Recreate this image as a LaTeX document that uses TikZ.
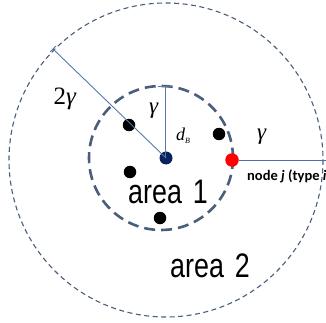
\documentclass[tikz,border=0pt]{standalone}
\usepackage{fontspec}
\usepackage{graphicx}
\usepackage{tikz}
\usetikzlibrary{positioning, calc}
\newfontfamily\areafont{Liberation Sans}
\newfontfamily\notefont{Carlito}
\newfontfamily\symfont{Liberation Serif}
\definecolor{ringblue}{RGB}{72,94,122}
\definecolor{rayblue}{RGB}{88,120,165}
\definecolor{hubblue}{RGB}{10,35,95}
\tikzstyle{dot} = [circle, inner sep=0pt, minimum size=12.5pt, fill=black]
\tikzstyle{ray} = [draw=rayblue, line width=0.9pt]
\tikzstyle{sym} = [inner sep=0pt, font=\symfont\fontsize{23}{23}\selectfont]
\tikzstyle{arealabel} = [inner sep=0pt, anchor=base west, font=\areafont\fontsize{34}{34}\selectfont]

\begin{document}
\begin{tikzpicture}[x=1pt, y=-1pt]
    \useasboundingbox (0,0) rectangle (326,323);
    % Rings
    \draw [ringblue, line width=1.1pt, dash pattern=on 5pt off 3.5pt] (166,160) circle (157);
    \draw [ringblue, line width=2.6pt, dash pattern=on 11pt off 6pt] (161,158) circle (72);

    % Nodes
    \node [dot, fill=hubblue, minimum size=13pt] (hub) at (166,158) {};
    \node [dot] (n1) at (129,125) {};
    \node [dot] (n2) at (130,172) {};
    \node [dot] (n3) at (160,218) {};
    \node [dot] (n4) at (219,134) {};
    \node [dot, fill=red, minimum size=13.5pt] (nodej) at (232,160) {};
    \coordinate (far) at (53,49);
    \coordinate (top) at (165,86);
    \coordinate (edge) at (330,160);

    % Edges
    \path [ray] (hub.center) -- (far);
    \path [ray] ($(far)!4pt!90:(hub.center)$) -- ($(far)!4pt!-90:(hub.center)$);
    \path [ray] (hub.center -| top) -- (top);
    \path [ray] ([xshift=-7pt]top) -- ([xshift=7pt]top);
    \path [ray, draw=rayblue!90!blue] (nodej) -- (edge);

    % Labels
    \node [sym, font=\symfont\fontsize{25}{25}\selectfont] (twog) at (65,99) {2\textit{γ}};
    \node [sym] (g1) at (154,111) {\textit{γ}};
    \node [sym, font=\symfont\fontsize{18}{18}\selectfont] (dB) at (183,136) {\textit{d}\raisebox{-3pt}{\fontsize{8}{8}\selectfont\textit{B}}};
    \node [sym] (g2) at (262,137) {\textit{γ}};
    \node [inner sep=0pt, anchor=base west, font=\notefont\bfseries\fontsize{14.5}{14.5}\selectfont] (jlabel) at (247,180) {node \textit{j} (type \textit{i})};
    \node [arealabel] (a1) at (128,203) {\scalebox{0.79}[1]{area\hspace{14pt}1}};
    \node [arealabel] (a2) at (170,277) {\scalebox{0.79}[1]{area\hspace{14pt}2}};
\end{tikzpicture}
\end{document}
